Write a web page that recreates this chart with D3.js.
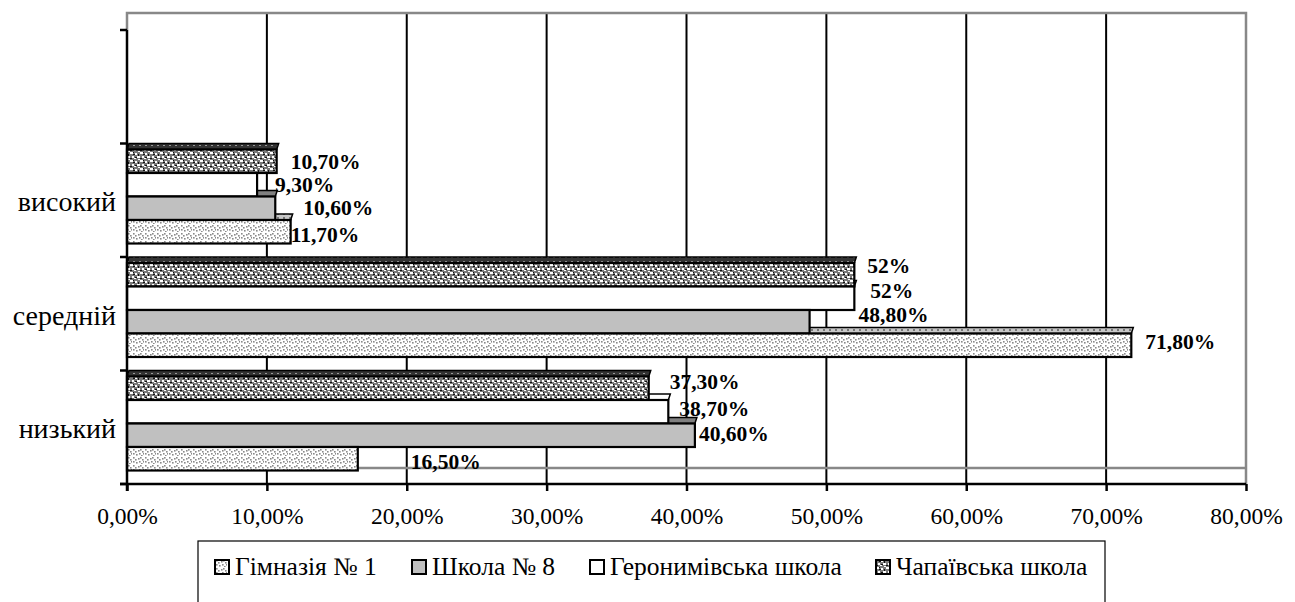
<!DOCTYPE html>
<html>
<head>
<meta charset="utf-8">
<script src="https://cdn.jsdelivr.net/npm/d3@7"></script>
</head>
<body style="margin:0;background:#fff">
<svg id="chart" width="1295" height="602"></svg>
<script>
// categories top to bottom (first band is empty)
const categories = ["", "високий", "середній", "низький"]
const levels = ["високий", "середній", "низький"]

// series, values in % per level
const legendNames = ["Гімназія № 1", "Школа № 8", "Геронимівська школа", "Чапаївська школа"]
const gymnasium = [11.7, 71.8, 16.5]
const school8 = [10.6, 48.8, 40.6]
const heronymivska = [9.3, 52, 38.7]
const chapaivska = [10.7, 52, 37.3]

// data label texts
const gymnasiumLabels = ["11,70%", "71,80%", "16,50%"]
const school8Labels = ["10,60%", "48,80%", "40,60%"]
const heronymivskaLabels = ["9,30%", "52%", "38,70%"]
const chapaivskaLabels = ["10,70%", "52%", "37,30%"]

const xTicks = [0, 10, 20, 30, 40, 50, 60, 70, 80]

// label nudges (dx from bar end, dy from bar middle) - the labels were dragged by hand
const nudge = {
  chap: [[14, 0], [13, -9], [21, -7]],
  hero: [[18, 0], [16, -8], [11, -3]],
  sch8: [[28, -1], [49, -7], [4, -2]],
  gym: [[0, 3], [14, -4], [53, 3]]
}

// series top -> bottom inside a band
const series = [
  {key: "chap", values: chapaivska, labels: chapaivskaLabels, fill: "url(#pChap)", top: "url(#pChapTop)"},
  {key: "hero", values: heronymivska, labels: heronymivskaLabels, fill: "#fff", top: "#fff"},
  {key: "sch8", values: school8, labels: school8Labels, fill: "#c0c0c0", top: "#808080"},
  {key: "gym", values: gymnasium, labels: gymnasiumLabels, fill: "url(#pGym)", top: "url(#pGymTop)"}
]
const legendFills = ["url(#pGym)", "#c0c0c0", "#fff", "url(#pChap)"]

const FONT = "'Liberation Serif', 'Times New Roman', serif"
const svg = d3.select("#chart")
const L = 127, R = 1246, T = 30, B = 484
const wallTop = 13, wallBottom = 468

// patterns
let defs = svg.append("defs")
let pg = defs.append("pattern").attr("id", "pGym").attr("patternUnits", "userSpaceOnUse")
  .attr("width", 12).attr("height", 8)
pg.append("rect").attr("width", 12).attr("height", 8).attr("fill", "#fff")
;[[1,1],[3,3],[6,2],[8,1],[10,3],[1,5],[4,6],[7,5],[9,7],[11,5]].forEach(p => {
  pg.append("rect").attr("x", p[0]).attr("y", p[1]).attr("width", 1.6).attr("height", 1.6).attr("fill", "#8a8a8a")
})
let pgt = defs.append("pattern").attr("id", "pGymTop").attr("patternUnits", "userSpaceOnUse")
  .attr("width", 6).attr("height", 4)
pgt.append("rect").attr("width", 6).attr("height", 4).attr("fill", "#c8c8c8")
pgt.append("rect").attr("x", 1).attr("y", 1).attr("width", 2).attr("height", 2).attr("fill", "#777")

let pc = defs.append("pattern").attr("id", "pChap").attr("patternUnits", "userSpaceOnUse")
  .attr("width", 10).attr("height", 8)
pc.append("rect").attr("width", 10).attr("height", 8).attr("fill", "#7a7a7a")
;[[0,0,3,2],[5,1,2,2],[2,4,2,2],[7,4,3,2],[4,6,2,1],[8,7,2,1]].forEach(p => {
  pc.append("rect").attr("x", p[0]).attr("y", p[1]).attr("width", p[2]).attr("height", p[3]).attr("fill", "#fff")
})
;[[3,2,2,1],[8,2,1,2],[0,6,2,1],[5,5,2,1],[3,0,1,1]].forEach(p => {
  pc.append("rect").attr("x", p[0]).attr("y", p[1]).attr("width", p[2]).attr("height", p[3]).attr("fill", "#111")
})
let pct = defs.append("pattern").attr("id", "pChapTop").attr("patternUnits", "userSpaceOnUse")
  .attr("width", 6).attr("height", 4)
pct.append("rect").attr("width", 6).attr("height", 4).attr("fill", "#333")
pct.append("rect").attr("x", 1).attr("y", 1).attr("width", 2).attr("height", 1).attr("fill", "#999")

// scales
let x = d3.scaleLinear().domain([0, 80]).range([L, R])
let y = d3.scaleBand().domain(categories).range([T, B])
let inner = d3.scaleBand().domain(series.map(s => s.key)).range([6, 100])

// back wall
let wall = svg.append("g")
wall.selectAll("line.grid").data(xTicks.slice(1, -1)).enter().append("line")
  .attr("x1", d => x(d)).attr("x2", d => x(d))
  .attr("y1", wallTop).attr("y2", B)
  .attr("stroke", "#000").attr("stroke-width", 2)
wall.append("path")
  .attr("d", `M${L},${wallBottom}H${R}M${L},${T}V${wallTop}H${R}V${B}`)
  .attr("fill", "none").attr("stroke", "#888").attr("stroke-width", 2.5)

// bars
let rows = []
series.forEach(s => {
  s.values.forEach((v, i) => {
    let y0 = y(levels[i]) + inner(s.key)
    rows.push({s, v, y0, h: inner.bandwidth(), label: s.labels[i], n: nudge[s.key][i]})
  })
})

let gBars = svg.append("g")
// top faces first so fronts cover them
gBars.selectAll("path.top").data(rows).enter().append("path")
  .attr("d", d => `M${L},${d.y0}L${L + 2},${d.y0 - 6}H${x(d.v) + 2}L${x(d.v)},${d.y0}Z`)
  .attr("fill", d => d.s.top).attr("stroke", "#000").attr("stroke-width", 1.5)
gBars.selectAll("rect.front").data(rows).enter().append("rect")
  .attr("x", L).attr("y", d => d.y0)
  .attr("width", d => x(d.v) - L).attr("height", d => d.h)
  .attr("fill", d => d.s.fill).attr("stroke", "#000").attr("stroke-width", 2.2)

// data labels
svg.append("g").selectAll("text").data(rows).enter().append("text")
  .attr("x", d => x(d.v) + d.n[0])
  .attr("y", d => d.y0 + d.h / 2 + d.n[1])
  .attr("dy", "0.35em")
  .style("font-family", FONT).style("font-size", "21.5px").style("font-weight", "bold")
  .text(d => d.label)

// axes
let fmt = d3.formatLocale({decimal: ",", thousands: " ", grouping: [3], currency: ["", ""]}).format(".2f")
let gx = svg.append("g").attr("transform", `translate(0,${B})`)
  .call(d3.axisBottom(x).tickValues(xTicks).tickFormat(d => fmt(d) + "%").tickSize(7).tickSizeOuter(0))
gx.select(".domain").attr("stroke-width", 2.5).attr("d", `M${L - 7},0H${R}`)
gx.selectAll(".tick line").attr("stroke-width", 2.5)
gx.selectAll(".tick text").attr("fill", "#000").attr("y", 23)
  .style("font-family", FONT).style("font-size", "23.5px")

let gy = svg.append("g").attr("transform", `translate(${L},0)`)
gy.append("line").attr("x1", 0).attr("x2", 0).attr("y1", T).attr("y2", B + 7)
  .attr("stroke", "#000").attr("stroke-width", 2.5)
gy.selectAll("line.tk").data(categories.concat(["end"])).enter().append("line")
  .attr("x1", -7).attr("x2", 0)
  .attr("y1", (d, i) => T + i * y.bandwidth()).attr("y2", (d, i) => T + i * y.bandwidth())
  .attr("stroke", "#000").attr("stroke-width", 2.5)
gy.selectAll("text").data(levels).enter().append("text")
  .attr("x", -11).attr("y", d => y(d) + y.step() / 2 + 11)
  .attr("text-anchor", "end")
  .style("font-family", FONT).style("font-size", "28px")
  .text(d => d)

// legend
let lg = svg.append("g")
lg.append("rect").attr("x", 198).attr("y", 541).attr("width", 907).attr("height", 80)
  .attr("fill", "#fff").attr("stroke", "#000").attr("stroke-width", 1.2)
let legendX = [215, 412, 590, 876]
let li = lg.selectAll("g.item").data(legendNames).enter().append("g")
  .attr("transform", (d, i) => `translate(${legendX[i]},567)`)
li.append("rect").attr("x", 0).attr("y", -7).attr("width", 14).attr("height", 14)
  .attr("fill", (d, i) => legendFills[i]).attr("stroke", "#000").attr("stroke-width", 2)
li.append("text").attr("x", 20).attr("y", 0).attr("dy", "0.33em")
  .style("font-family", FONT).style("font-size", "25.5px")
  .text(d => d)
</script>
</body>
</html>
